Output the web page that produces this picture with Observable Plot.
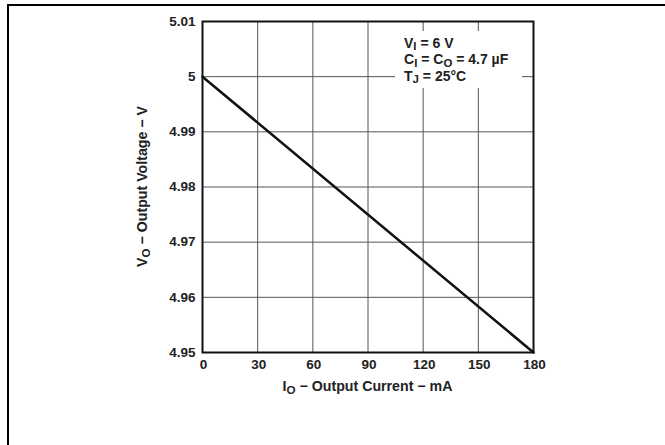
<!DOCTYPE html>
<html>
<head>
<meta charset="utf-8">
<script src="https://cdn.jsdelivr.net/npm/d3@7"></script>
<script src="https://cdn.jsdelivr.net/npm/@observablehq/plot@0.6"></script>
<style>
  html, body { margin: 0; padding: 0; background: #fff; }
  #wrap { position: relative; width: 665px; height: 445px; overflow: hidden; }
  #border { position: absolute; left: 7px; top: 4px; right: 0; bottom: 0; border-top: 2px solid #000; border-left: 2px solid #000; }
  #chart { position: absolute; left: 0; top: 0; }
  svg { font-family: "Liberation Sans", Arial, Helvetica, sans-serif; font-weight: bold; }
</style>
</head>
<body>
<div id="wrap"><div id="border"></div><div id="chart"></div></div>
<script>
// Data
const currents = [0, 180];          // mA
const voltages = [5.0, 4.95];       // V
const xTicks = [0, 30, 60, 90, 120, 150, 180];
const yTicks = [4.95, 4.96, 4.97, 4.98, 4.99, 5.0, 5.01];
const yTickLabels = ["4.95", "4.96", "4.97", "4.98", "4.99", "5", "5.01"];
const legendLines = [
  [["V", ""], ["I", "sub"], [" = 6 V", ""]],
  [["C", ""], ["I", "sub"], [" = C", ""], ["O", "sub"], [" = 4.7 \u00B5F", ""]],
  [["T", ""], ["J", "sub"], [" = 25\u00B0C", ""]]
];
const xLabel = [["I", ""], ["O", "sub"], [" \u2212 Output Current \u2212 mA", ""]];
const yLabel = [["V", ""], ["O", "sub"], [" \u2212 Output Voltage \u2212 V", ""]];

const data = currents.map((c, i) => ({c, v: voltages[i]}));

const plot = Plot.plot({
  width: 665,
  height: 445,
  marginLeft: 202,
  marginRight: 132,
  marginTop: 21,
  marginBottom: 93,
  style: {fontSize: "13px", fontFamily: "Liberation Sans, Arial, sans-serif", fontWeight: "bold", color: "#222", background: "transparent"},
  x: {domain: [0, 180]},
  y: {domain: [4.95, 5.01]},
  marks: [
    Plot.ruleX(xTicks, {stroke: "#555", strokeWidth: 1}),
    Plot.ruleY(yTicks, {stroke: "#555", strokeWidth: 1}),
    Plot.frame({stroke: "#111", strokeWidth: 2}),
    Plot.line(data, {x: "c", y: "v", stroke: "#111", strokeWidth: 2.5}),
    Plot.axisX(xTicks, {tickSize: 0, tickPadding: 7, label: null, fill: "#222", fontSize: 13.5, fontWeight: "bold", dx: 1}),
    Plot.axisY(yTicks, {tickSize: 0, tickPadding: 7, label: null, fill: "#222", fontSize: 13.5, fontWeight: "bold",
      tickFormat: (d) => yTickLabels[yTicks.indexOf(d)]})
  ]
});
document.getElementById("chart").appendChild(plot);

const svg = d3.select(plot);
const xs = plot.scale("x"), ys = plot.scale("y");

function addRich(sel, parts, fs, shift) {
  let lastSub = false;
  parts.forEach(([t, kind]) => {
    const ts = sel.append("tspan").text(t);
    if (kind === "sub") ts.attr("font-size", fs * 0.82).attr("dy", shift);
    else if (lastSub) ts.attr("dy", -shift);
    lastSub = kind === "sub";
  });
}

// X axis label
const xl = svg.append("text")
  .attr("x", (xs.apply(0) + xs.apply(180)) / 2)
  .attr("y", 391)
  .attr("text-anchor", "middle")
  .attr("font-size", 14.2)
  .attr("fill", "#222");
addRich(xl, xLabel, 14.2, 3);

// Y axis label
const yl = svg.append("text")
  .attr("transform", `translate(147,${(ys.apply(4.95) + ys.apply(5.01)) / 2}) rotate(-90)`)
  .attr("text-anchor", "middle")
  .attr("font-size", 14.2)
  .attr("fill", "#222");
addRich(yl, yLabel, 14.2, 3);

// Legend box
const lg = svg.append("g");
lg.append("rect").attr("x", 395).attr("y", 31).attr("width", 127).attr("height", 57).attr("fill", "#fff");
legendLines.forEach((parts, i) => {
  const t = lg.append("text").attr("x", 404).attr("y", 47.5 + i * 16.5)
    .attr("text-anchor", "start")
    .attr("font-size", 14).attr("fill", "#222");
  addRich(t, parts, 14, 2.5);
});
</script>
</body>
</html>
